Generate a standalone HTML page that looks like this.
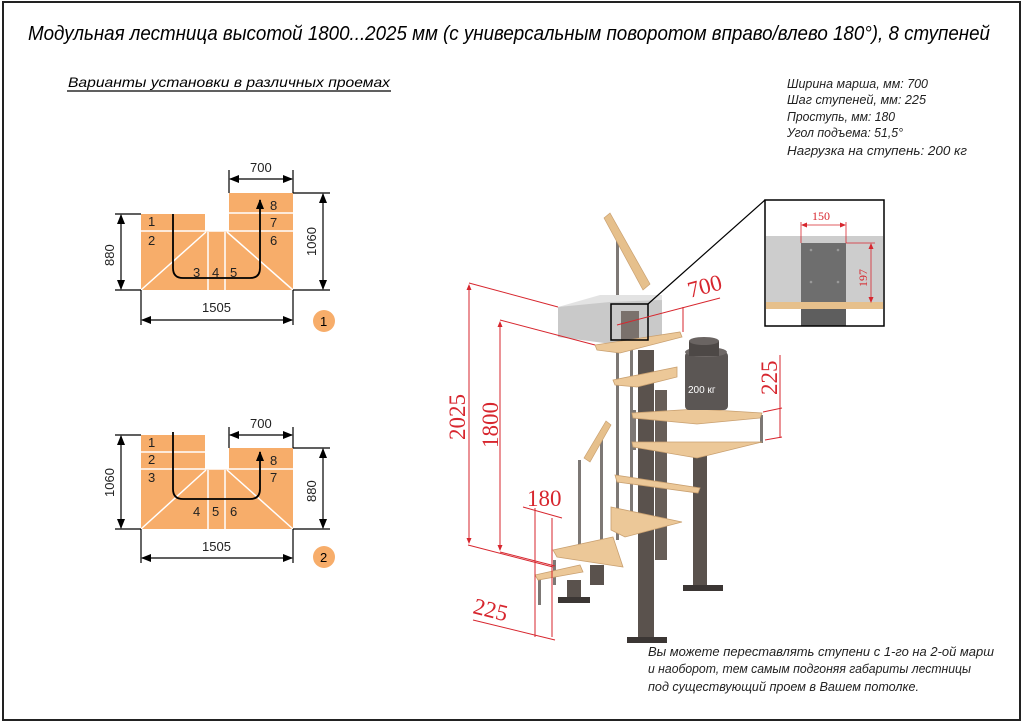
<!DOCTYPE html>
<html><head><meta charset="utf-8"><style>
html,body{margin:0;padding:0;background:#fff;}
svg{display:block;}
text{font-family:"Liberation Sans","DejaVu Sans",sans-serif;font-style:italic;}
text.n{font-style:normal;}
text.s{font-family:"Liberation Serif",serif;fill:#d7262e;font-style:normal;}
</style></head><body>
<svg width="1024" height="725" viewBox="0 0 1024 725" xmlns="http://www.w3.org/2000/svg">
<defs>
<marker id="a" markerWidth="10" markerHeight="8" refX="9" refY="4" orient="auto-start-reverse" markerUnits="userSpaceOnUse"><path d="M0,0 L10,4 L0,8 Z" fill="#000"/></marker>
<marker id="r" markerWidth="6" markerHeight="5" refX="5" refY="2.5" orient="auto-start-reverse" markerUnits="userSpaceOnUse"><path d="M0,0 L6,2.5 L0,5 Z" fill="#d7262e"/></marker>
</defs>
<rect x="3" y="2" width="1017" height="718" fill="none" stroke="#222" stroke-width="2"/>
<text x="28" y="40" font-size="20" textLength="962" lengthAdjust="spacingAndGlyphs">Модульная лестница высотой 1800...2025 мм (с универсальным поворотом вправо/влево 180°), 8 ступеней</text>
<text x="68" y="87" font-size="14" textLength="322" lengthAdjust="spacingAndGlyphs">Варианты установки в различных проемах</text>
<line x1="67" y1="91" x2="391" y2="91" stroke="#000" stroke-width="1.2"/>
<g font-size="13" fill="#222">
<text x="787" y="88" textLength="141" lengthAdjust="spacingAndGlyphs">Ширина марша, мм: 700</text>
<text x="787" y="104" textLength="139" lengthAdjust="spacingAndGlyphs">Шаг ступеней, мм: 225</text>
<text x="787" y="121" textLength="108" lengthAdjust="spacingAndGlyphs">Проступь, мм: 180</text>
<text x="787" y="137" textLength="116" lengthAdjust="spacingAndGlyphs">Угол подъема: 51,5°</text>
<text x="787" y="155" textLength="180" lengthAdjust="spacingAndGlyphs">Нагрузка на ступень: 200 кг</text>
<text x="648" y="656" textLength="346" lengthAdjust="spacingAndGlyphs">Вы можете переставлять ступени с 1-го на 2-ой марш</text>
<text x="648" y="673" textLength="323" lengthAdjust="spacingAndGlyphs">и наоборот, тем самым подгоняя габариты лестницы</text>
<text x="648" y="691" textLength="271" lengthAdjust="spacingAndGlyphs">под существующий проем в Вашем потолке.</text>
</g>

<!-- Diagram 1 -->
<g>
<path d="M141,214 H205 V231 H229 V193 H293 V290 H141 Z" fill="#f7ad6a"/>
<g stroke="#fff" stroke-width="1.5" fill="none">
<line x1="141" y1="231" x2="293" y2="231"/><line x1="229" y1="213" x2="293" y2="213"/>
<line x1="208" y1="232" x2="208" y2="290"/><line x1="225" y1="232" x2="225" y2="290"/>
<line x1="206" y1="232" x2="141" y2="290"/><line x1="227" y1="232" x2="293" y2="290"/>
</g>
<path d="M173,214 V268 Q173,278 183,278 H250 Q260,278 260,268 V200" fill="none" stroke="#000" stroke-width="1.8" marker-end="url(#a)"/>
<g font-size="13" fill="#222">
<text class="n" x="148" y="226">1</text><text class="n" x="148" y="245">2</text><text class="n" x="270" y="210">8</text><text class="n" x="270" y="227">7</text><text class="n" x="270" y="245">6</text>
<text class="n" x="193" y="277">3</text><text class="n" x="212" y="277">4</text><text class="n" x="230" y="277">5</text>
</g>
<g stroke="#000" stroke-width="1.2" fill="none">
<line x1="229" y1="193" x2="229" y2="170"/><line x1="293" y1="193" x2="293" y2="170"/>
<line x1="230" y1="179" x2="292" y2="179" marker-start="url(#a)" marker-end="url(#a)"/>
<line x1="141" y1="214" x2="115" y2="214"/><line x1="141" y1="290" x2="115" y2="290"/>
<line x1="121" y1="215" x2="121" y2="289" marker-start="url(#a)" marker-end="url(#a)"/>
<line x1="293" y1="193" x2="330" y2="193"/><line x1="293" y1="290" x2="330" y2="290"/>
<line x1="323" y1="194" x2="323" y2="289" marker-start="url(#a)" marker-end="url(#a)"/>
<line x1="141" y1="290" x2="141" y2="325"/><line x1="293" y1="290" x2="293" y2="325"/>
<line x1="142" y1="320" x2="292" y2="320" marker-start="url(#a)" marker-end="url(#a)"/>
</g>
<g font-size="13" fill="#222">
<text class="n" x="250" y="172">700</text><text class="n" x="202" y="312">1505</text>
<text class="n" transform="translate(114,266) rotate(-90)">880</text>
<text class="n" transform="translate(316,256) rotate(-90)">1060</text>
</g>
<circle cx="324" cy="321" r="11" fill="#f7ad6a"/><text class="n" x="320" y="326" font-size="13">1</text>
</g>

<!-- Diagram 2 -->
<g>
<path d="M141,435 H205 V469 H229 V448 H293 V529 H141 Z" fill="#f7ad6a"/>
<g stroke="#fff" stroke-width="1.5" fill="none">
<line x1="141" y1="452" x2="205" y2="452"/><line x1="141" y1="469" x2="293" y2="469"/>
<line x1="208" y1="470" x2="208" y2="529"/><line x1="225" y1="470" x2="225" y2="529"/>
<line x1="206" y1="470" x2="141" y2="529"/><line x1="227" y1="470" x2="293" y2="529"/>
</g>
<path d="M173,432 V489 Q173,499 183,499 H250 Q260,499 260,489 V452" fill="none" stroke="#000" stroke-width="1.8" marker-end="url(#a)"/>
<g font-size="13" fill="#222">
<text class="n" x="148" y="447">1</text><text class="n" x="148" y="464">2</text><text class="n" x="148" y="482">3</text><text class="n" x="270" y="465">8</text><text class="n" x="270" y="482">7</text>
<text class="n" x="193" y="516">4</text><text class="n" x="212" y="516">5</text><text class="n" x="230" y="516">6</text>
</g>
<g stroke="#000" stroke-width="1.2" fill="none">
<line x1="229" y1="448" x2="229" y2="427"/><line x1="293" y1="448" x2="293" y2="427"/>
<line x1="230" y1="435" x2="292" y2="435" marker-start="url(#a)" marker-end="url(#a)"/>
<line x1="141" y1="435" x2="115" y2="435"/><line x1="141" y1="529" x2="115" y2="529"/>
<line x1="121" y1="436" x2="121" y2="528" marker-start="url(#a)" marker-end="url(#a)"/>
<line x1="293" y1="448" x2="330" y2="448"/><line x1="293" y1="529" x2="330" y2="529"/>
<line x1="323" y1="449" x2="323" y2="528" marker-start="url(#a)" marker-end="url(#a)"/>
<line x1="141" y1="529" x2="141" y2="563"/><line x1="293" y1="529" x2="293" y2="563"/>
<line x1="142" y1="558" x2="292" y2="558" marker-start="url(#a)" marker-end="url(#a)"/>
</g>
<g font-size="13" fill="#222">
<text class="n" x="250" y="428">700</text><text class="n" x="202" y="551">1505</text>
<text class="n" transform="translate(114,497) rotate(-90)">1060</text>
<text class="n" transform="translate(316,502) rotate(-90)">880</text>
</g>
<circle cx="324" cy="557" r="11" fill="#f7ad6a"/><text class="n" x="320" y="562" font-size="13">2</text>
</g>

<!-- Staircase illustration -->
<g>
<rect x="638" y="350" width="16" height="290" fill="#5a524d"/>
<rect x="693" y="447" width="14" height="140" fill="#5a524d"/>
<rect x="655" y="390" width="12" height="170" fill="#675e58"/>
<rect x="627" y="637" width="40" height="6" fill="#3b3634"/>
<rect x="683" y="585" width="40" height="6" fill="#3b3634"/>
<rect x="567" y="580" width="14" height="20" fill="#5a524d"/>
<rect x="558" y="597" width="32" height="6" fill="#3b3634"/>
<rect x="590" y="565" width="14" height="20" fill="#5a524d"/>
<g fill="#7d7875">
<rect x="616" y="240" width="3" height="300"/><rect x="630" y="300" width="3" height="220"/>
<rect x="600" y="430" width="3" height="120"/><rect x="578" y="460" width="3" height="100"/>
<rect x="538" y="575" width="3" height="30"/><rect x="553" y="560" width="3" height="25"/>
<rect x="760" y="415" width="3" height="28"/><rect x="633" y="410" width="3" height="40"/>
</g>
<polygon points="604,218 610,213 650,284 643,290" fill="#e6c08c" stroke="#c9a070" stroke-width="0.7"/>
<polygon points="584,458 590,462 611,425 606,421" fill="#e6c08c" stroke="#c9a070" stroke-width="0.7"/>
<polygon points="558,307 600,295 662,295 662,300 610,312 558,312" fill="#e3e3e3"/>
<polygon points="558,307 610,302 662,300 662,337 612,344 558,337" fill="#c9c9c9"/>
<rect x="621" y="311" width="18" height="35" fill="#7a716c"/>
<g fill="#ecc898" stroke="#c9a070" stroke-width="0.8">
<polygon points="595,345 680,332 682,337 620,353 597,350"/>
<polygon points="613,380 677,367 677,377 637,387 615,385"/>
<polygon points="632,413 697,409 762,413 760,418 697,424 633,418"/>
<polygon points="632,442 762,442 697,458 633,447"/>
<polygon points="615,475 700,488 698,493 617,482"/>
<polygon points="611,507 682,522 625,537 611,530"/>
<polygon points="553,550 613,537 623,567 557,557"/>
<polygon points="535,575 580,565 583,572 538,580"/>
</g>
<rect x="685" y="352" width="43" height="58" rx="4" fill="#5b5654"/>
<ellipse cx="706" cy="352" rx="21" ry="5" fill="#6e6866"/>
<rect x="689" y="341" width="30" height="15" fill="#4d4846"/>
<ellipse cx="704" cy="341" rx="15" ry="4" fill="#6a6462"/>
<text class="n" x="688" y="393" font-size="10" fill="#fff">200 кг</text>
</g>

<rect x="611" y="304" width="37" height="36" fill="none" stroke="#000" stroke-width="1.5"/>
<line x1="648" y1="304" x2="765" y2="200" stroke="#000" stroke-width="1.2"/>
<g>
<rect x="765" y="200" width="119" height="126" fill="#fff"/>
<rect x="766" y="236" width="117" height="68" fill="#cdcdcd"/>
<rect x="801" y="243" width="45" height="62" fill="#6e6e6e"/>
<rect x="801" y="309" width="45" height="17" fill="#5e5e5e"/>
<rect x="766" y="302" width="117" height="7" fill="#e6c08c"/>
<g fill="#999"><circle cx="811" cy="250" r="1.3"/><circle cx="838" cy="250" r="1.3"/><circle cx="811" cy="282" r="1.3"/><circle cx="838" cy="282" r="1.3"/></g>
<g stroke="#d7262e" stroke-width="0.8" fill="none">
<line x1="801" y1="222" x2="801" y2="243"/><line x1="846" y1="222" x2="846" y2="243"/>
<line x1="802" y1="225" x2="845" y2="225" marker-start="url(#r)" marker-end="url(#r)"/>
<line x1="846" y1="243" x2="875" y2="243"/>
<line x1="871" y1="244" x2="871" y2="302" marker-start="url(#r)" marker-end="url(#r)"/>
</g>
<text class="s" x="812" y="220" font-size="12">150</text>
<text class="s" transform="translate(867,287) rotate(-90)" font-size="12">197</text>
<rect x="765" y="200" width="119" height="126" fill="none" stroke="#000" stroke-width="1.5"/>
</g>

<g stroke="#d7262e" stroke-width="1" fill="none">
<line x1="469" y1="283" x2="558" y2="307"/><line x1="468" y1="545" x2="553" y2="567"/>
<line x1="469" y1="285" x2="469" y2="543" marker-start="url(#r)" marker-end="url(#r)"/>
<line x1="500" y1="320" x2="595" y2="345"/><line x1="500" y1="552" x2="555" y2="566"/>
<line x1="500" y1="322" x2="500" y2="550" marker-start="url(#r)" marker-end="url(#r)"/>
<line x1="617" y1="325" x2="720" y2="298"/><line x1="683" y1="307" x2="683" y2="332"/>
<line x1="780" y1="355" x2="780" y2="438"/><line x1="763" y1="412" x2="782" y2="408"/><line x1="765" y1="440" x2="782" y2="437"/>
<line x1="535" y1="508" x2="535" y2="637"/><line x1="552" y1="518" x2="552" y2="637"/><line x1="523" y1="507" x2="562" y2="518"/>
<line x1="473" y1="620" x2="555" y2="640"/>
</g>
<g font-size="23">
<text class="s" transform="translate(465,440) rotate(-90)">2025</text>
<text class="s" transform="translate(498,448) rotate(-90)">1800</text>
<text class="s" transform="translate(690,298) rotate(-15)">700</text>
<text class="s" transform="translate(777,395) rotate(-90)">225</text>
<text class="s" x="527" y="506">180</text>
<text class="s" transform="translate(472,613) rotate(14)">225</text>
</g>
</svg>
</body></html>
